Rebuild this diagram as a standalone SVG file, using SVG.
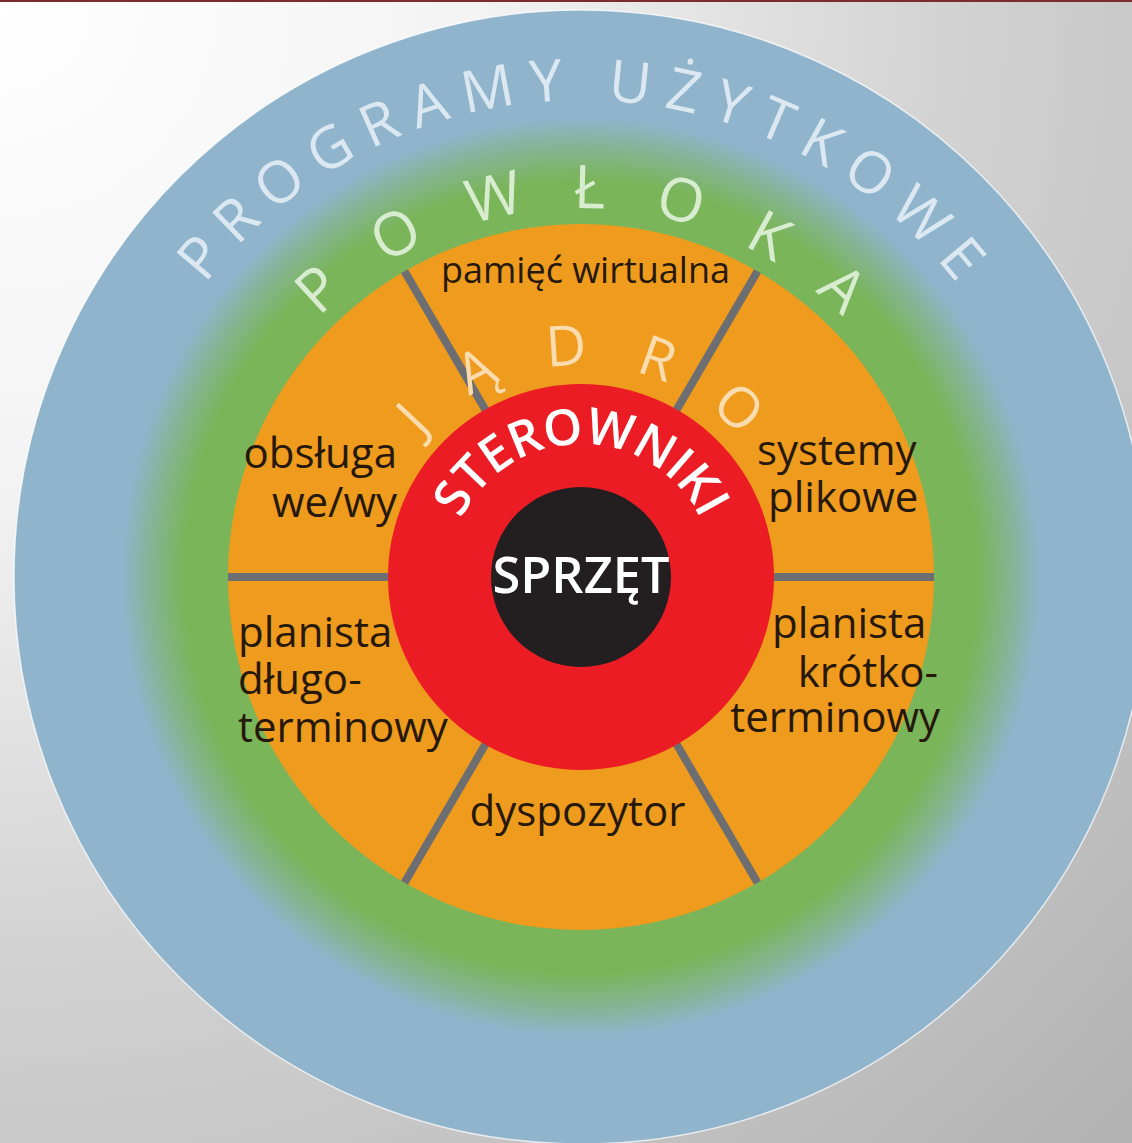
<svg xmlns="http://www.w3.org/2000/svg" width="1132" height="1143" viewBox="0 0 1132 1143">
  <defs>
    <radialGradient id="bg" gradientUnits="userSpaceOnUse" cx="0" cy="0" r="1600">
      <stop offset="0" stop-color="#ffffff"/>
      <stop offset="0.3" stop-color="#f3f3f3"/>
      <stop offset="0.6" stop-color="#d2d2d2"/>
      <stop offset="1" stop-color="#b2b2b2"/>
    </radialGradient>
    <radialGradient id="shell" gradientUnits="userSpaceOnUse" cx="581" cy="577" r="567">
      <stop offset="0" stop-color="#7ab55a"/>
      <stop offset="0.7" stop-color="#7ab55a"/>
      <stop offset="0.755" stop-color="#84b48f"/>
      <stop offset="0.81" stop-color="#8fb4cc"/>
      <stop offset="1" stop-color="#8fb4cc"/>
    </radialGradient>
    <path id="arcProg" d="M 104 577 A 477 477 0 0 1 1058 577"/>
    <path id="arcShell" d="M 212 577 A 369 369 0 0 1 950 577"/>
    <path id="arcKernel" d="M 369 577 A 212 212 0 0 1 793 577"/>
    <path id="arcDrivers" d="M 448 577 A 133 133 0 0 1 714 577"/>
    <style>
      .lbl { font-family: "Open Sans", "Liberation Sans", sans-serif; font-size: 42px; fill: #26190c; }
      .small { font-size: 36px; }
      .arc { font-family: "Open Sans", "Liberation Sans", sans-serif; text-anchor: middle; }
      .spoke { stroke: #6d6e71; stroke-width: 8; }
    </style>
  </defs>

  <rect x="0" y="0" width="1132" height="1143" fill="url(#bg)"/>
  <rect x="0" y="0" width="1132" height="2" fill="#7b2c2c"/>

  <g id="programy-uzytkowe">
    <circle cx="581" cy="577" r="567" fill="url(#shell)" stroke="#ffffff" stroke-opacity="0.7" stroke-width="1.5"/>
    <text class="arc" font-size="58" font-weight="500" fill="#dbe8f1"><textPath href="#arcProg" startOffset="50%" textLength="866" lengthAdjust="spacing">PROGRAMY UŻYTKOWE</textPath></text>
  </g>

  <g id="powloka">
    <text class="arc" font-size="60" font-weight="500" fill="#d8ecd0"><textPath href="#arcShell" startOffset="50%" textLength="582" lengthAdjust="spacing">POWŁOKA</textPath></text>
  </g>

  <g id="jadro">
    <circle cx="581" cy="577" r="353" fill="#ef9b1d"/>
  </g>

  <g id="connectors">
    <line class="spoke" x1="485.5" y1="409.9" x2="404.5" y2="271.3"/>
    <line class="spoke" x1="676.5" y1="409.9" x2="757.5" y2="271.3"/>
    <line class="spoke" x1="388" y1="577" x2="228" y2="577"/>
    <line class="spoke" x1="774" y1="577" x2="934" y2="577"/>
    <line class="spoke" x1="485.5" y1="744.1" x2="404.5" y2="882.7"/>
    <line class="spoke" x1="676.5" y1="744.1" x2="757.5" y2="882.7"/>
  </g>

  <g id="jadro-label">
    <text class="arc" font-size="56" font-weight="500" fill="#fbdcaf"><textPath href="#arcKernel" startOffset="50%" textLength="361" lengthAdjust="spacing">JĄDRO</textPath></text>
  </g>

  <g id="pamiec-wirtualna">
    <text class="lbl small" x="585.5" y="283" text-anchor="middle">pamięć wirtualna</text>
  </g>
  <g id="obsluga-we-wy">
    <text class="lbl" x="397" y="468" text-anchor="end">obsługa</text>
    <text class="lbl" x="397" y="517" text-anchor="end">we/wy</text>
  </g>
  <g id="systemy-plikowe">
    <text class="lbl" x="757" y="465">systemy</text>
    <text class="lbl" x="768" y="512">plikowe</text>
  </g>
  <g id="planista-dlugoterminowy">
    <text class="lbl" x="238" y="647">planista</text>
    <text class="lbl" x="238" y="694">długo-</text>
    <text class="lbl" x="238" y="742">terminowy</text>
  </g>
  <g id="planista-krotkoterminowy">
    <text class="lbl" x="772" y="638">planista</text>
    <text class="lbl" x="938" y="687" text-anchor="end">krótko-</text>
    <text class="lbl" x="940" y="732" text-anchor="end">terminowy</text>
  </g>
  <g id="dyspozytor">
    <text class="lbl" x="577.5" y="826" text-anchor="middle">dyspozytor</text>
  </g>

  <g id="sterowniki">
    <circle cx="581" cy="577" r="193" fill="#ec1c24"/>
    <text class="arc" font-size="50" font-weight="600" fill="#ffffff"><textPath href="#arcDrivers" startOffset="50%" textLength="298" lengthAdjust="spacing">STEROWNIKI</textPath></text>
  </g>

  <g id="sprzet">
    <circle cx="581" cy="577" r="90" fill="#231f20"/>
    <text x="581" y="593" text-anchor="middle" font-family="Open Sans, Liberation Sans, sans-serif" font-size="50" font-weight="600" fill="#ffffff" textLength="177" lengthAdjust="spacingAndGlyphs">SPRZĘT</text>
  </g>
</svg>
